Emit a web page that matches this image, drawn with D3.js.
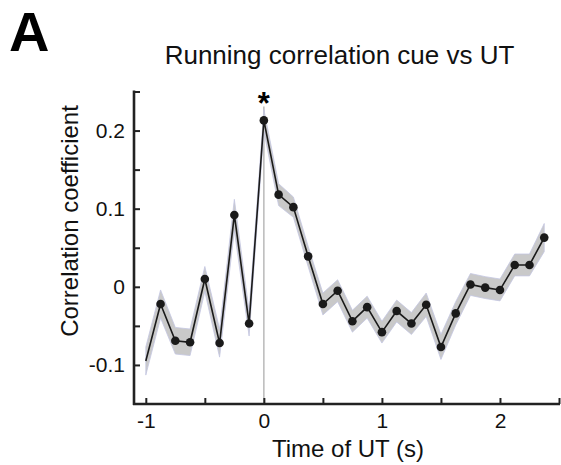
<!DOCTYPE html>
<html>
<head>
<meta charset="utf-8">
<script src="https://cdn.jsdelivr.net/npm/d3@7"></script>
<style>
  html, body { margin: 0; padding: 0; background: #fff; }
  svg { display: block; font-family: "Liberation Sans", Arial, sans-serif; }
</style>
</head>
<body>
<svg id="chart" width="561" height="465"></svg>
<script>
// ---- data ----
const times = [-1, -0.875, -0.75, -0.625, -0.5, -0.375, -0.25, -0.125, 0, 0.125, 0.25, 0.375, 0.5, 0.625, 0.75, 0.875, 1, 1.125, 1.25, 1.375, 1.5, 1.625, 1.75, 1.875, 2, 2.125, 2.25, 2.375];
const corr = [-0.095, -0.022, -0.069, -0.071, 0.010, -0.072, 0.092, -0.047, 0.213, 0.118, 0.102, 0.039, -0.022, -0.005, -0.044, -0.026, -0.058, -0.031, -0.047, -0.023, -0.077, -0.034, 0.003, -0.001, -0.004, 0.028, 0.028, 0.063];
const sem = [0.018, 0.018, 0.017, 0.017, 0.016, 0.018, 0.020, 0.016, 0.014, 0.014, 0.013, 0.013, 0.014, 0.014, 0.014, 0.014, 0.014, 0.014, 0.014, 0.015, 0.016, 0.015, 0.014, 0.014, 0.014, 0.014, 0.014, 0.018];
const xTickLabels = ["-1", "0", "1", "2"];
const xTickLabelValues = [-1, 0, 1, 2];
const xMinorTicks = [-1, -0.5, 0, 0.5, 1, 1.5, 2, 2.5];
const yTickLabels = ["-0.1", "0", "0.1", "0.2"];
const yTickLabelValues = [-0.1, 0, 0.1, 0.2];
const yMinorTicks = [-0.1, -0.05, 0, 0.05, 0.1, 0.15, 0.2, 0.25];
const titleText = "Running correlation cue vs UT";
const xLabel = "Time of UT (s)";
const yLabel = "Correlation coefficient";
const panelLetter = "A";

const pts = times.map((t, i) => ({ t, v: corr[i], e: sem[i] }));

const svg = d3.select("#chart");
const x = d3.scaleLinear().domain([-1.1, 2.5]).range([134, 559]);
const y = d3.scaleLinear().domain([-0.15, 0.25]).range([404, 91.5]);

const labelFor = (vals, labels) => d => {
  const i = vals.findIndex(v => Math.abs(v - d) < 1e-9);
  return i >= 0 ? labels[i] : "";
};

// panel letter and title
svg.append("text").attr("x", 9).attr("y", 51)
  .attr("font-size", 56).attr("font-weight", "bold").text(panelLetter);
svg.append("text").attr("x", 339.5).attr("y", 64).attr("text-anchor", "middle")
  .attr("font-size", 26).attr("fill", "#111").text(titleText);

// vertical line at 0
const peak = pts.find(p => p.t === 0);
svg.append("line")
  .attr("x1", x(0)).attr("x2", x(0))
  .attr("y1", y(peak.v + peak.e) - 3).attr("y2", y(-0.15))
  .attr("stroke", "#b4b4b4").attr("stroke-width", 1.4);

// band
const area = d3.area().x(d => x(d.t)).y0(d => y(d.v - d.e)).y1(d => y(d.v + d.e));
svg.append("path").datum(pts).attr("d", area)
  .attr("fill", "#c9c9c9").attr("stroke", "#c4c6e2").attr("stroke-width", 0.8);

// line
const line = d3.line().x(d => x(d.t)).y(d => y(d.v));
svg.append("path").datum(pts).attr("d", line)
  .attr("fill", "none").attr("stroke", "#1a1a1a").attr("stroke-width", 1.6);

// dots (first sample has none)
svg.selectAll("circle.dot").data(pts.slice(1)).join("circle")
  .attr("class", "dot").attr("cx", d => x(d.t)).attr("cy", d => y(d.v))
  .attr("r", 4.3).attr("fill", "#1a1a1a");

// asterisk
svg.append("text").attr("x", x(0)).attr("y", 114).attr("text-anchor", "middle")
  .attr("font-size", 31).attr("font-weight", "bold").text("*");

// axes
const xAxis = d3.axisBottom(x).tickValues(xMinorTicks).tickSize(-6)
  .tickFormat(labelFor(xTickLabelValues, xTickLabels));
const gx = svg.append("g").attr("transform", `translate(0,${y(-0.15)})`).call(xAxis);
gx.select(".domain").remove();
gx.append("line").attr("x1", 133).attr("x2", 560).attr("y1", 0).attr("y2", 0)
  .attr("stroke", "#222").attr("stroke-width", 2.6);
gx.selectAll(".tick line").attr("stroke", "#222").attr("stroke-width", 2);
gx.selectAll(".tick text").attr("font-size", 21).attr("fill", "#111")
  .attr("font-family", "Liberation Sans, Arial, sans-serif").attr("y", 24).attr("dy", null);

const yAxis = d3.axisLeft(y).tickValues(yMinorTicks).tickSize(-6)
  .tickFormat(labelFor(yTickLabelValues, yTickLabels));
const gy = svg.append("g").attr("transform", `translate(${x(-1.1)},0)`).call(yAxis);
gy.select(".domain").remove();
gy.append("line").attr("x1", 0).attr("x2", 0).attr("y1", 90.5).attr("y2", 405)
  .attr("stroke", "#222").attr("stroke-width", 2.6);
gy.selectAll(".tick line").attr("stroke", "#222").attr("stroke-width", 2);
gy.selectAll(".tick text").attr("font-size", 21).attr("fill", "#111")
  .attr("font-family", "Liberation Sans, Arial, sans-serif").attr("x", -9);

// axis labels
svg.append("text").attr("x", 348).attr("y", 456.5).attr("text-anchor", "middle")
  .attr("font-size", 24).attr("fill", "#111").text(xLabel);
svg.append("text").attr("transform", "translate(78,221) rotate(-90)")
  .attr("text-anchor", "middle").attr("font-size", 24).attr("fill", "#111").text(yLabel);
</script>
</body>
</html>
